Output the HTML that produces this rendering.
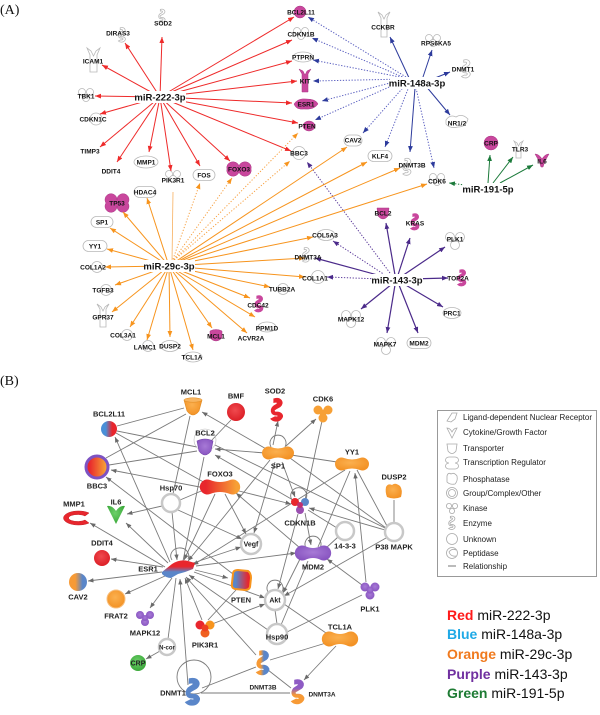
<!DOCTYPE html>
<html><head><meta charset="utf-8">
<style>
html,body{margin:0;padding:0;background:#fff;}
svg{display:block;}
.t{font-family:"Liberation Sans",Arial,sans-serif;font-weight:bold;font-size:6.5px;fill:#111;text-anchor:middle;}
.h{font-family:"Liberation Sans",Arial,sans-serif;font-weight:bold;font-size:9.5px;fill:#111;text-anchor:middle;}
.b{font-family:"Liberation Sans",Arial,sans-serif;font-weight:bold;font-size:7.5px;fill:#222;text-anchor:middle;}
.lg{font-family:"Liberation Sans",Arial,sans-serif;font-size:8px;fill:#222;}
.ck{font-family:"Liberation Sans",Arial,sans-serif;font-size:14px;fill:#111;}
.o{fill:#fff;stroke:#b8b8b8;stroke-width:.8;}
.m{fill:#c9479d;stroke:#a83583;stroke-width:.5;}
.gc{fill:#fff;stroke:#c8c8c8;stroke-width:2.5;}
.li{fill:#fff;stroke:#aaa;stroke-width:.8;}
</style></head>
<body>
<svg width="600" height="715" viewBox="0 0 600 715" xmlns="http://www.w3.org/2000/svg">
<defs>
<marker id="mR" viewBox="0 0 10 10" refX="10" refY="5" markerWidth="6" markerHeight="6" orient="auto" markerUnits="userSpaceOnUse"><path d="M0,1 L10,5 L0,9 z" fill="#ee2a2a"/></marker>
<marker id="mB" viewBox="0 0 10 10" refX="10" refY="5" markerWidth="6" markerHeight="6" orient="auto" markerUnits="userSpaceOnUse"><path d="M0,1 L10,5 L0,9 z" fill="#2d3b9c"/></marker>
<marker id="mO" viewBox="0 0 10 10" refX="10" refY="5" markerWidth="6" markerHeight="6" orient="auto" markerUnits="userSpaceOnUse"><path d="M0,1 L10,5 L0,9 z" fill="#f7941d"/></marker>
<marker id="mP" viewBox="0 0 10 10" refX="10" refY="5" markerWidth="6" markerHeight="6" orient="auto" markerUnits="userSpaceOnUse"><path d="M0,1 L10,5 L0,9 z" fill="#4b2a8a"/></marker>
<marker id="mG" viewBox="0 0 10 10" refX="10" refY="5" markerWidth="6" markerHeight="6" orient="auto" markerUnits="userSpaceOnUse"><path d="M0,1 L10,5 L0,9 z" fill="#1b7a3a"/></marker>
<marker id="mK" viewBox="0 0 10 10" refX="10" refY="5" markerWidth="5.5" markerHeight="5.5" orient="auto" markerUnits="userSpaceOnUse"><path d="M0,1 L10,5 L0,9 z" fill="#6a6a6a"/></marker>
<linearGradient id="gBR" x1="0" y1="0" x2="1" y2="0"><stop offset="0.3" stop-color="#4a8fd8"/><stop offset="0.7" stop-color="#e8262d"/></linearGradient>
<linearGradient id="gRO" x1="0" y1="0" x2="1" y2="0"><stop offset="0.15" stop-color="#e8262d"/><stop offset="0.9" stop-color="#f7a035"/></linearGradient>
<linearGradient id="gOB" x1="0" y1="0" x2="1" y2="0"><stop offset="0.35" stop-color="#f79a35"/><stop offset="0.75" stop-color="#5a86c9"/></linearGradient>
<linearGradient id="gPT" x1="0" y1="0" x2="1" y2="0"><stop offset="0.2" stop-color="#5a86c9"/><stop offset="0.85" stop-color="#e8262d"/></linearGradient>
<linearGradient id="gES" x1="0" y1="0" x2="0" y2="1"><stop offset="0.35" stop-color="#e8262d"/><stop offset="0.65" stop-color="#5a86c9"/></linearGradient>
<linearGradient id="gBO" x1="0" y1="0" x2="1" y2="0"><stop offset="0.3" stop-color="#f79a35"/><stop offset="0.6" stop-color="#5a86c9"/></linearGradient>
<linearGradient id="gPO" x1="0" y1="0" x2="0" y2="1"><stop offset="0.35" stop-color="#8e5bc4"/><stop offset="0.65" stop-color="#f79a35"/></linearGradient>
<radialGradient id="gRed" cx="0.45" cy="0.4" r="0.6"><stop offset="0" stop-color="#f04a4f"/><stop offset="1" stop-color="#dc1f27"/></radialGradient>
<radialGradient id="gOr" cx="0.45" cy="0.4" r="0.6"><stop offset="0" stop-color="#fbb04f"/><stop offset="1" stop-color="#f39225"/></radialGradient>
<radialGradient id="gGr" cx="0.45" cy="0.4" r="0.6"><stop offset="0" stop-color="#6dd06a"/><stop offset="1" stop-color="#3ba83a"/></radialGradient>
<radialGradient id="gPu" cx="0.5" cy="0.45" r="0.6"><stop offset="0" stop-color="#a77ad6"/><stop offset="1" stop-color="#8652bf"/></radialGradient>
</defs>

<!-- ===================== PANEL A ===================== -->
<text x="0" y="14" style="font-family:'Liberation Serif',serif;font-size:14px;fill:#111">(A)</text>

<g class="o">
  <path transform="translate(162,16) scale(.55)" vector-effect="non-scaling-stroke" d="M-3,-12 C4,-14 8,-8 3,-4 C-2,-1 -6,0 -2,3 C4,2 8,6 4,10 C1,13 -4,12 -6,10 L-2,8 C2,9 3,6 0,5 C-7,6 -8,-2 -2,-5 C2,-7 2,-10 -3,-9 Z"/>
  <path transform="translate(122,35) scale(.6)" vector-effect="non-scaling-stroke" d="M-3,-12 C4,-14 8,-8 3,-4 C-2,-1 -6,0 -2,3 C4,2 8,6 4,10 C1,13 -4,12 -6,10 L-2,8 C2,9 3,6 0,5 C-7,6 -8,-2 -2,-5 C2,-7 2,-10 -3,-9 Z"/>
  <path d="M87,48 L90,55 L90,72 L97,72 L97,55 L100,48 L96,51 L93.5,56 L91,51 Z"/>
  <g transform="translate(86,94)"><circle cx="-4" cy="-2" r="3.5"/><circle cx="4" cy="-2" r="3.5"/><circle cx="0" cy="4" r="3.5"/></g>
  <circle cx="96" cy="119" r="6"/>
  <ellipse cx="146" cy="162" rx="12" ry="6"/>
  <g transform="translate(173,176)"><circle cx="-4" cy="-2" r="3.5"/><circle cx="4" cy="-2" r="3.5"/><circle cx="0" cy="3" r="3.5"/></g>
  <rect x="193" y="169.5" width="22" height="11" rx="5.5"/>
  <g transform="translate(301,33)"><circle cx="-4" cy="-2" r="3.5"/><circle cx="4" cy="-2" r="3.5"/><circle cx="0" cy="3" r="3.5"/></g>
  <ellipse cx="303" cy="57" rx="10" ry="5"/>
  <circle cx="299" cy="153" r="6.5"/>
  <path d="M378,12 L381,18 L381,37 L387,37 L387,18 L390,12 L386,15 L384,19 L382,15 Z"/>
  <g transform="translate(433,40)"><circle cx="-4" cy="-2" r="3.5"/><circle cx="4" cy="-2" r="3.5"/><circle cx="0" cy="3" r="3.5"/></g>
  <path transform="translate(466,69) scale(.75)" vector-effect="non-scaling-stroke" d="M-3,-12 C4,-14 8,-8 3,-4 C-2,-1 -6,0 -2,3 C4,2 8,6 4,10 C1,13 -4,12 -6,10 L-2,8 C2,9 3,6 0,5 C-7,6 -8,-2 -2,-5 C2,-7 2,-10 -3,-9 Z"/>
  <path d="M446,120 Q450,114 456,117 Q462,113 468,119 Q466,127 458,127 Q450,129 446,124 Z"/>
  <g transform="translate(437,179)"><circle cx="-4" cy="-2" r="3.5"/><circle cx="4" cy="-2" r="3.5"/><circle cx="0" cy="3" r="3.5"/></g>
  <path transform="translate(407,167) scale(.7)" vector-effect="non-scaling-stroke" d="M-3,-12 C4,-14 8,-8 3,-4 C-2,-1 -6,0 -2,3 C4,2 8,6 4,10 C1,13 -4,12 -6,10 L-2,8 C2,9 3,6 0,5 C-7,6 -8,-2 -2,-5 C2,-7 2,-10 -3,-9 Z"/>
  <rect x="368" y="150.5" width="24" height="11" rx="5.5"/>
  <rect x="344" y="135" width="18" height="11" rx="5.5"/>
  <path d="M514,141 L516,145 L516,158 L521,158 L521,145 L523,141 L520,143 L518.5,146 L517,143 Z"/>
  <g transform="translate(455,240)"><circle cx="-5" cy="-3" r="4.5"/><circle cx="5" cy="-3" r="4.5"/><circle cx="0" cy="5" r="4.5"/></g>
  <ellipse cx="452" cy="313" rx="9" ry="5.5"/>
  <rect x="407" y="337.5" width="24" height="11" rx="5.5"/>
  <g transform="translate(386,345)"><circle cx="-5" cy="-3" r="4.5"/><circle cx="5" cy="-3" r="4.5"/><circle cx="0" cy="5" r="4.5"/></g>
  <g transform="translate(351,318)"><circle cx="-5" cy="-3" r="4.5"/><circle cx="5" cy="-3" r="4.5"/><circle cx="0" cy="5" r="4.5"/></g>
  <circle cx="318" cy="277" r="6.5"/>
  <path transform="translate(306,255) scale(.6)" vector-effect="non-scaling-stroke" d="M-3,-12 C4,-14 8,-8 3,-4 C-2,-1 -6,0 -2,3 C4,2 8,6 4,10 C1,13 -4,12 -6,10 L-2,8 C2,9 3,6 0,5 C-7,6 -8,-2 -2,-5 C2,-7 2,-10 -3,-9 Z"/>
  <ellipse cx="326" cy="235" rx="9" ry="5.5"/>
  <rect x="134" y="186.5" width="22" height="11" rx="5.5"/>
  <rect x="91" y="216.5" width="22" height="11" rx="5.5"/>
  <rect x="83" y="240.5" width="24" height="11" rx="5.5"/>
  <circle cx="97" cy="267" r="5.5"/>
  <circle cx="106" cy="290" r="5.5"/>
  <path d="M97,304 L100,309 L100,327 L106,327 L106,309 L109,304 L105,307 L103,311 L101,307 Z"/>
  <circle cx="127" cy="335" r="5.5"/>
  <circle cx="148" cy="346" r="5.5"/>
  <ellipse cx="170" cy="346" rx="9" ry="5.5"/>
  <ellipse cx="193" cy="357" rx="9" ry="5"/>
  <ellipse cx="267" cy="327" rx="9" ry="5"/>
  <circle cx="283" cy="289" r="5.5"/>
</g>
<g class="m">
  <path d="M227,169 A6,5.5 0 1 1 239,166 A6,5.5 0 1 1 251,169 A6,5.5 0 1 1 239,172 A6,5.5 0 1 1 227,169 Z"/>
  <circle cx="300" cy="12" r="6"/>
  <path d="M299,69 L302,74 L302,92 L308,92 L308,74 L311,69 L307,71 L305,75 L303,71 Z"/>
  <path d="M294,104 Q298,98 306,99 Q316,99 318,104 Q314,110 304,109 Q296,110 294,104 Z"/>
  <ellipse cx="309" cy="126" rx="6" ry="5"/>
  <circle cx="491" cy="143" r="7"/>
  <path d="M535,154 Q539,154 542,159 Q545,154 549,154 L545,161 L543,167 L541,167 L539,161 Z"/>
  <path d="M377,208 L389,208 L388,216 Q383,222 378,216 Z"/>
  <path transform="translate(415,222) scale(.65)" stroke="#c9479d" stroke-width="2" d="M-3,-12 C4,-14 8,-8 3,-4 C-2,-1 -6,0 -2,3 C4,2 8,6 4,10 C1,13 -4,12 -6,10 L-2,8 C2,9 3,6 0,5 C-7,6 -8,-2 -2,-5 C2,-7 2,-10 -3,-9 Z"/>
  <path transform="translate(462,278) scale(.65)" stroke="#c9479d" stroke-width="2" d="M-3,-12 C4,-14 8,-8 3,-4 C-2,-1 -6,0 -2,3 C4,2 8,6 4,10 C1,13 -4,12 -6,10 L-2,8 C2,9 3,6 0,5 C-7,6 -8,-2 -2,-5 C2,-7 2,-10 -3,-9 Z"/>
  <path d="M106,203 A6,6 0 1 1 117,200 A6,6 0 1 1 128,203 A6,6 0 1 1 117,206 A6,6 0 1 1 106,203 Z"/>
  <path d="M210,331 Q216,328 222,331 L222,338 Q216,344 210,338 Z"/>
  <path transform="translate(259,304) scale(.65)" stroke="#c9479d" stroke-width="2" d="M-3,-12 C4,-14 8,-8 3,-4 C-2,-1 -6,0 -2,3 C4,2 8,6 4,10 C1,13 -4,12 -6,10 L-2,8 C2,9 3,6 0,5 C-7,6 -8,-2 -2,-5 C2,-7 2,-10 -3,-9 Z"/>
</g>

<g stroke="#ee2a2a" stroke-width="1" fill="none" marker-end="url(#mR)">
  <line x1="160" y1="97" x2="162" y2="37"/>
  <line x1="160" y1="97" x2="125" y2="43"/>
  <line x1="160" y1="97" x2="102" y2="65"/>
  <line x1="160" y1="97" x2="95" y2="96"/>
  <line x1="160" y1="97" x2="100" y2="114"/>
  <line x1="160" y1="97" x2="100" y2="147"/>
  <line x1="160" y1="97" x2="117" y2="162"/>
  <line x1="160" y1="97" x2="149" y2="152"/>
  <line x1="160" y1="97" x2="171" y2="171"/>
  <line x1="160" y1="97" x2="200" y2="166"/>
  <line x1="160" y1="97" x2="230" y2="161"/>
  <line x1="160" y1="97" x2="294" y2="17"/>
  <line x1="160" y1="97" x2="292" y2="40"/>
  <line x1="160" y1="97" x2="292" y2="61"/>
  <line x1="160" y1="97" x2="297" y2="81"/>
  <line x1="160" y1="97" x2="292" y2="103"/>
  <line x1="160" y1="97" x2="298" y2="123"/>
  <line x1="160" y1="97" x2="291" y2="151"/>
</g>
<g stroke="#2d3b9c" stroke-width="1" fill="none" marker-end="url(#mB)">
  <line x1="410" y1="80" x2="390" y2="37"/>
  <line x1="422" y1="80" x2="432" y2="50"/>
  <line x1="430" y1="80" x2="450" y2="72"/>
  <line x1="425" y1="85" x2="450" y2="115"/>
  <line x1="415" y1="88" x2="410" y2="152"/>
</g>
<g stroke="#5a5fc0" stroke-width="1" fill="none" stroke-dasharray="1.3 1.6" marker-end="url(#mB)">
  <line x1="416" y1="88" x2="434" y2="168"/>
  <line x1="410" y1="84" x2="385" y2="147"/>
  <line x1="408" y1="82" x2="363" y2="133"/>
  <line x1="405" y1="80" x2="315" y2="120"/>
  <line x1="405" y1="79" x2="322" y2="101"/>
  <line x1="405" y1="79" x2="313" y2="81"/>
  <line x1="405" y1="78" x2="313" y2="60"/>
  <line x1="405" y1="78" x2="312" y2="38"/>
  <line x1="406" y1="77" x2="308" y2="17"/>
</g>
<g stroke="#1b7a3a" stroke-width="1" fill="none" marker-end="url(#mG)">
  <line x1="488" y1="183" x2="490" y2="155"/>
  <line x1="493" y1="183" x2="513" y2="157"/>
  <line x1="500" y1="183" x2="533" y2="165"/>
  <line x1="465" y1="185" x2="449" y2="183" stroke-dasharray="1.3 1.6"/>
</g>
<g stroke="#4b2a8a" stroke-width="1.2" fill="none" marker-end="url(#mP)">
  <line x1="395" y1="275" x2="386" y2="223"/>
  <line x1="398" y1="275" x2="410" y2="238"/>
  <line x1="402" y1="276" x2="445" y2="247"/>
  <line x1="410" y1="279" x2="448" y2="278"/>
  <line x1="404" y1="284" x2="443" y2="307"/>
  <line x1="399" y1="285" x2="418" y2="333"/>
  <line x1="395" y1="285" x2="387" y2="333"/>
  <line x1="392" y1="284" x2="361" y2="309"/>
  <line x1="385" y1="277" x2="315" y2="258"/>
</g>
<g stroke="#5b3a9a" stroke-width="1" fill="none" stroke-dasharray="1.3 1.6" marker-end="url(#mP)">
  <line x1="380" y1="279" x2="327" y2="277"/>
  <line x1="385" y1="275" x2="333" y2="241"/>
  <line x1="390" y1="273" x2="307" y2="162"/>
</g>
<g stroke="#f7941d" stroke-width="1" fill="none" marker-end="url(#mO)">
  <line x1="169" y1="266" x2="147" y2="198"/>
  <line x1="169" y1="266" x2="123" y2="212"/>
  <line x1="169" y1="266" x2="110" y2="228"/>
  <line x1="169" y1="266" x2="107" y2="249"/>
  <line x1="169" y1="266" x2="105" y2="267"/>
  <line x1="169" y1="266" x2="115" y2="285"/>
  <line x1="169" y1="266" x2="112" y2="312"/>
  <line x1="169" y1="266" x2="130" y2="327"/>
  <line x1="169" y1="266" x2="147" y2="340"/>
  <line x1="169" y1="266" x2="170" y2="337"/>
  <line x1="169" y1="266" x2="193" y2="350"/>
  <line x1="169" y1="266" x2="212" y2="328"/>
  <line x1="169" y1="266" x2="247" y2="333"/>
  <line x1="169" y1="266" x2="255" y2="317"/>
  <line x1="169" y1="266" x2="250" y2="298"/>
  <line x1="169" y1="266" x2="270" y2="287"/>
  <line x1="169" y1="266" x2="347" y2="147"/>
  <line x1="169" y1="266" x2="367" y2="162"/>
  <line x1="169" y1="266" x2="400" y2="168"/>
  <line x1="169" y1="266" x2="427" y2="184"/>
  <line x1="169" y1="266" x2="313" y2="237"/>
  <line x1="169" y1="266" x2="305" y2="258"/>
  <line x1="169" y1="266" x2="305" y2="277"/>
</g>
<line x1="172" y1="262" x2="173" y2="192" stroke="#f7b060" stroke-width=".8"/>
<g stroke="#f7a040" stroke-width="1" fill="none" stroke-dasharray="1.2 1.8" marker-end="url(#mO)">
  <line x1="172" y1="262" x2="200" y2="183"/>
  <line x1="172" y1="262" x2="232" y2="178"/>
  <line x1="172" y1="262" x2="298" y2="133"/>
  <line x1="172" y1="262" x2="290" y2="161"/>
</g>

<g fill="#fff">
  <rect x="135" y="91" width="51" height="12"/>
  <rect x="390" y="77" width="55" height="12"/>
  <rect x="144" y="260" width="51" height="12"/>
  <rect x="372" y="274" width="51" height="12"/>
  <rect x="463" y="183" width="51" height="12"/>
</g>
<text class="h" x="160" y="100.4">miR-222-3p</text>
<text class="h" x="417" y="86.4">miR-148a-3p</text>
<text class="h" x="169" y="269.4">miR-29c-3p</text>
<text class="h" x="397" y="283.4">miR-143-3p</text>
<text class="h" x="488" y="192.4">miR-191-5p</text>

<g class="t">
  <text x="163" y="25.3">SOD2</text>
  <text x="118" y="35.3">DIRAS3</text>
  <text x="93" y="63.3">ICAM1</text>
  <text x="86" y="98.3">TBK1</text>
  <text x="93" y="121.3">CDKN1C</text>
  <text x="90" y="153.3">TIMP3</text>
  <text x="111" y="173.3">DDIT4</text>
  <text x="146" y="164.3">MMP1</text>
  <text x="173" y="182.3">PIK3R1</text>
  <text x="204" y="177.3">FOS</text>
  <text x="239" y="171.3">FOXO3</text>
  <text x="301" y="14.3">BCL2L11</text>
  <text x="301" y="36.3">CDKN1B</text>
  <text x="303" y="59.3">PTPRN</text>
  <text x="305" y="83.3">KIT</text>
  <text x="306" y="106.3">ESR1</text>
  <text x="307" y="128.3">PTEN</text>
  <text x="299" y="155.3">BBC3</text>
  <text x="383" y="29.3">CCKBR</text>
  <text x="436" y="45.3">RPS6KA5</text>
  <text x="463" y="71.3">DNMT1</text>
  <text x="457" y="125.3">NR1/2</text>
  <text x="437" y="183.3">CDK6</text>
  <text x="412" y="167.3">DNMT3B</text>
  <text x="380" y="158.3">KLF4</text>
  <text x="353" y="142.3">CAV2</text>
  <text x="491" y="145.3">CRP</text>
  <text x="520" y="151.3">TLR3</text>
  <text x="542" y="163.3">IL6</text>
  <text x="383" y="215.3">BCL2</text>
  <text x="415" y="225.3">KRAS</text>
  <text x="455" y="241.3">PLK1</text>
  <text x="458" y="280.3">TOP2A</text>
  <text x="452" y="315.3">PRC1</text>
  <text x="419" y="345.3">MDM2</text>
  <text x="385" y="346.3">MAPK7</text>
  <text x="351" y="321.3">MAPK12</text>
  <text x="315" y="280.3">COL1A1</text>
  <text x="308" y="259.3">DNMT3A</text>
  <text x="325" y="237.3">COL5A3</text>
  <text x="145" y="194.3">HDAC4</text>
  <text x="117" y="205.3">TP53</text>
  <text x="102" y="224.3">SP1</text>
  <text x="95" y="248.3">YY1</text>
  <text x="93" y="269.3">COL1A2</text>
  <text x="103" y="292.3">TGFB3</text>
  <text x="103" y="319.3">GPR37</text>
  <text x="123" y="337.3">COL3A1</text>
  <text x="145" y="349.3">LAMC1</text>
  <text x="170" y="348.3">DUSP2</text>
  <text x="192" y="359.3">TCL1A</text>
  <text x="216" y="338.3">MCL1</text>
  <text x="251" y="340.3">ACVR2A</text>
  <text x="267" y="330.3">PPM1D</text>
  <text x="258" y="307.3">CDC42</text>
  <text x="282" y="291.3">TUBB2A</text>
</g>

<!-- ===================== PANEL B ===================== -->
<text x="0" y="385" style="font-family:'Liberation Serif',serif;font-size:14px;fill:#111">(B)</text>

<g stroke="#7a7a7a" stroke-width=".9" fill="none">
  <line x1="117" y1="426" x2="184" y2="408"/>
  <line x1="106" y1="458" x2="186" y2="414"/>
  <line x1="190" y1="416" x2="173" y2="494"/>
  <line x1="231" y1="420" x2="211" y2="441"/>
  <line x1="117" y1="431" x2="197" y2="447"/>
  <line x1="116" y1="433" x2="207" y2="484"/>
  <line x1="109" y1="465" x2="197" y2="451"/>
  <line x1="204" y1="457" x2="183" y2="561"/>
  <line x1="180" y1="500" x2="206" y2="489"/>
  <line x1="291" y1="455" x2="337" y2="462"/>
  <line x1="322" y1="421" x2="305" y2="500"/>
  <line x1="350" y1="471" x2="318" y2="547"/>
  <line x1="357" y1="470" x2="387" y2="526"/>
  <line x1="394" y1="500" x2="394" y2="523"/>
  <line x1="386" y1="528" x2="290" y2="458"/>
  <line x1="337" y1="528" x2="308" y2="510"/>
  <line x1="338" y1="537" x2="326" y2="548"/>
  <line x1="308" y1="561" x2="281" y2="625"/>
  <line x1="362" y1="595" x2="287" y2="632"/>
  <line x1="275" y1="610" x2="277" y2="624"/>
  <line x1="284" y1="604" x2="326" y2="633"/>
  <line x1="208" y1="620" x2="236" y2="590"/>
  <line x1="326" y1="643" x2="270" y2="660"/>
  <line x1="268" y1="670" x2="291" y2="688"/>
  <line x1="201" y1="693" x2="290" y2="693"/>
  <line x1="202" y1="688" x2="256" y2="667"/>
  <line x1="168" y1="639" x2="176" y2="578"/>
  <line x1="215" y1="445" x2="385" y2="528"/>
  <path d="M271,447 A8,8 0 1 1 285,447"/>
  <path d="M306,548 A8,8 0 1 1 320,548"/>
  <path d="M268,592 A8,8 0 1 1 282,592"/>
  <path d="M292,500 A8,8 0 1 1 306,499"/>
  <path d="M172,560 A9,8 0 1 1 188,559"/>
  <circle cx="194" cy="677" r="17"/>
  <circle cx="205" cy="440" r="11" stroke="#bbb" stroke-width=".6"/>
</g>
<g stroke="#7a7a7a" stroke-width=".9" fill="none" marker-end="url(#mK)">
  <line x1="268" y1="450" x2="202" y2="412"/>
  <line x1="205" y1="488" x2="111" y2="470"/>
  <line x1="170" y1="562" x2="115" y2="437"/>
  <line x1="233" y1="574" x2="106" y2="477"/>
  <line x1="265" y1="453" x2="215" y2="449"/>
  <line x1="293" y1="500" x2="215" y2="455"/>
  <line x1="162" y1="506" x2="127" y2="514"/>
  <line x1="165" y1="567" x2="90" y2="523"/>
  <line x1="168" y1="563" x2="126" y2="523"/>
  <line x1="273" y1="445" x2="278" y2="421"/>
  <line x1="286" y1="446" x2="316" y2="419"/>
  <line x1="282" y1="462" x2="295" y2="497"/>
  <line x1="270" y1="460" x2="188" y2="561"/>
  <line x1="275" y1="462" x2="254" y2="533"/>
  <line x1="235" y1="490" x2="291" y2="504"/>
  <line x1="225" y1="494" x2="246" y2="534"/>
  <line x1="215" y1="494" x2="184" y2="560"/>
  <line x1="300" y1="548" x2="236" y2="493"/>
  <line x1="345" y1="470" x2="193" y2="565"/>
  <line x1="366" y1="582" x2="355" y2="473"/>
  <line x1="385" y1="530" x2="309" y2="508"/>
  <line x1="386" y1="538" x2="284" y2="596"/>
  <line x1="298" y1="514" x2="278" y2="589"/>
  <line x1="305" y1="513" x2="311" y2="545"/>
  <line x1="300" y1="559" x2="283" y2="593"/>
  <line x1="362" y1="585" x2="327" y2="559"/>
  <line x1="212" y1="624" x2="265" y2="604"/>
  <line x1="202" y1="620" x2="185" y2="578"/>
  <line x1="336" y1="646" x2="304" y2="680"/>
  <line x1="188" y1="685" x2="180" y2="579"/>
  <line x1="160" y1="651" x2="146" y2="659"/>
  <line x1="172" y1="512" x2="177" y2="560"/>
  <line x1="268" y1="630" x2="189" y2="575"/>
  <line x1="256" y1="655" x2="186" y2="577"/>
  <line x1="195" y1="570" x2="228" y2="578"/>
  <line x1="193" y1="563" x2="241" y2="547"/>
  <line x1="196" y1="566" x2="296" y2="553"/>
  <line x1="194" y1="572" x2="265" y2="598"/>
  <line x1="162" y1="572" x2="88" y2="581"/>
  <line x1="163" y1="567" x2="111" y2="559"/>
  <line x1="165" y1="576" x2="125" y2="594"/>
  <line x1="172" y1="578" x2="150" y2="608"/>
  <line x1="178" y1="510" x2="242" y2="539"/>
</g>

<!-- MCL1 -->
<path d="M184,400 Q193,396 202,400 L199,411 Q193,419 187,411 Z" fill="url(#gOr)" stroke="#e08a20" stroke-width=".6"/>
<ellipse cx="193" cy="400" rx="9" ry="2.2" fill="#f8b560" stroke="#e08a20" stroke-width=".5"/>
<circle cx="236" cy="412" r="9" fill="url(#gRed)"/>
<path transform="translate(277,410) scale(.9)" stroke="#e8262d" stroke-width="2" d="M-3,-12 C4,-14 8,-8 3,-4 C-2,-1 -6,0 -2,3 C4,2 8,6 4,10 C1,13 -4,12 -6,10 L-2,8 C2,9 3,6 0,5 C-7,6 -8,-2 -2,-5 C2,-7 2,-10 -3,-9 Z" fill="#e8262d"/>
<g transform="translate(323,413)" fill="#f7a035"><circle cx="-5" cy="-3" r="4.5"/><circle cx="5" cy="-3" r="4.5"/><circle cx="0" cy="5" r="4.5"/><circle r="3.5"/></g>
<circle cx="109" cy="429" r="8" fill="url(#gBR)"/>
<path d="M197,441 Q205,437 213,441 L211,451 Q205,459 199,451 Z" fill="url(#gPu)" stroke="#7444a8" stroke-width=".6"/>
<circle cx="97" cy="467" r="11" fill="url(#gRO)" stroke="#7d52c2" stroke-width="3"/>
<path d="M210,480 A7.5,7.5 0 1 0 210,494 Q220,490 230,494 A7.5,7.5 0 1 0 230,480 Q220,484 210,480 Z" fill="url(#gRO)"/>
<circle cx="171" cy="503" r="9" class="gc"/>
<path d="M107,506 Q112,505 116,511 Q120,505 125,506 L119,518 L116,524 L113,518 Z" fill="url(#gGr)"/>
<!-- MMP1 crescent -->
<path d="M89,513 A15,7 0 1 0 89,523 L85,520 A9,3.5 0 1 1 85,516 Z" fill="#e8262d" stroke="#c01a20" stroke-width=".5"/>
<path d="M271,447 A6.5,6.5 0 1 0 271,459 Q278,456 285,459 A6.5,6.5 0 1 0 285,447 Q278,450 271,447 Z" fill="url(#gOr)"/>
<path d="M344,458 A6.5,6.5 0 1 0 344,470 Q352,467 360,470 A6.5,6.5 0 1 0 360,458 Q352,461 344,458 Z" fill="url(#gOr)"/>
<path d="M386,487 Q388,483 392,485 Q395,482 400,486 Q403,490 401,497 Q394,500 387,497 Q385,492 386,487 Z" fill="url(#gOr)"/>
<g transform="translate(300,505)"><circle cx="-5" cy="-3" r="4" fill="#e8262d"/><circle cx="5" cy="-3" r="4" fill="#5a86c9"/><circle cx="0" cy="5" r="4" fill="#9a4fb0"/><circle r="3" fill="#c03070"/></g>
<circle cx="345" cy="531" r="9" class="gc"/>
<circle cx="394" cy="532" r="9" class="gc"/>
<path d="M305,546 A7.5,7.5 0 1 0 305,560 Q313,556 321,560 A7.5,7.5 0 1 0 321,546 Q313,550 305,546 Z" fill="url(#gPu)"/>
<circle cx="251" cy="544" r="10" class="gc"/>
<circle cx="275" cy="600" r="10" class="gc"/>
<circle cx="277" cy="634" r="10" class="gc"/>
<circle cx="167" cy="647" r="8" class="gc"/>
<path d="M233,574 Q233,570 238,570 L248,571 Q251,573 251,578 L250,587 Q249,590 245,590 L235,589 Q231,588 232,583 Z" fill="url(#gPT)" stroke="#f7941d" stroke-width="2"/>
<g transform="translate(370,590)" fill="url(#gPu)"><circle cx="-5" cy="-3" r="4.5"/><circle cx="5" cy="-3" r="4.5"/><circle cx="0" cy="5" r="4.5"/><circle r="3.5"/></g>
<path d="M332,632 A7.5,7.5 0 1 0 332,646 Q340,642 348,646 A7.5,7.5 0 1 0 348,632 Q340,636 332,632 Z" fill="url(#gOr)"/>
<path transform="translate(263,663) scale(.95)" stroke="url(#gBO)" stroke-width="2" d="M-3,-12 C4,-14 8,-8 3,-4 C-2,-1 -6,0 -2,3 C4,2 8,6 4,10 C1,13 -4,12 -6,10 L-2,8 C2,9 3,6 0,5 C-7,6 -8,-2 -2,-5 C2,-7 2,-10 -3,-9 Z" fill="url(#gBO)"/>
<path transform="translate(298,692) scale(.95)" stroke="url(#gPO)" stroke-width="2" d="M-3,-12 C4,-14 8,-8 3,-4 C-2,-1 -6,0 -2,3 C4,2 8,6 4,10 C1,13 -4,12 -6,10 L-2,8 C2,9 3,6 0,5 C-7,6 -8,-2 -2,-5 C2,-7 2,-10 -3,-9 Z" fill="url(#gPO)"/>
<path transform="translate(193,692) scale(1.05)" stroke="#5a86c9" stroke-width="2.2" d="M-3,-12 C4,-14 8,-8 3,-4 C-2,-1 -6,0 -2,3 C4,2 8,6 4,10 C1,13 -4,12 -6,10 L-2,8 C2,9 3,6 0,5 C-7,6 -8,-2 -2,-5 C2,-7 2,-10 -3,-9 Z" fill="#5a86c9"/>
<path d="M162,572 L172,564 Q180,559 188,561 L195,563 L193,569 Q186,572 178,574 L171,578 Q166,578 162,574 Z" fill="url(#gES)"/>
<circle cx="102" cy="558" r="8" fill="url(#gRed)"/>
<circle cx="78" cy="582" r="9" fill="url(#gOB)"/>
<circle cx="116" cy="599" r="9" fill="url(#gOr)" stroke="#f8c080" stroke-width="1"/>
<g transform="translate(145,618)" fill="url(#gPu)"><circle cx="-5" cy="-3" r="4"/><circle cx="5" cy="-3" r="4"/><circle cx="0" cy="4" r="4"/><circle r="3"/></g>
<g transform="translate(205,628)"><circle cx="-5" cy="-3" r="4.5" fill="#e8262d"/><circle cx="5" cy="-3" r="4.5" fill="#f7941d"/><circle cx="0" cy="5" r="4.5" fill="#f06020"/><circle r="3.5" fill="#ee4020"/></g>
<circle cx="138" cy="663" r="8" fill="url(#gGr)"/>

<g class="b">
  <text x="191" y="394.7">MCL1</text>
  <text x="236" y="398.7">BMF</text>
  <text x="275" y="393.7">SOD2</text>
  <text x="323" y="401.7">CDK6</text>
  <text x="109" y="416.7">BCL2L11</text>
  <text x="205" y="435.7">BCL2</text>
  <text x="97" y="488.7">BBC3</text>
  <text x="220" y="476.7">FOXO3</text>
  <text x="171" y="490.7">Hsp70</text>
  <text x="116" y="504.7">IL6</text>
  <text x="74" y="506.7">MMP1</text>
  <text x="278" y="468.7">SP1</text>
  <text x="352" y="454.7">YY1</text>
  <text x="394" y="479.7">DUSP2</text>
  <text x="300" y="525.7">CDKN1B</text>
  <text x="345" y="548.7">14-3-3</text>
  <text x="394" y="549.7">P38 MAPK</text>
  <text x="313" y="569.7">MDM2</text>
  <text x="251" y="546.7" style="font-size:7px">Vegf</text>
  <text x="241" y="602.7">PTEN</text>
  <text x="275" y="602.7" style="font-size:7px">Akt</text>
  <text x="370" y="611.7">PLK1</text>
  <text x="277" y="639.7">Hsp90</text>
  <text x="340" y="629.7">TCL1A</text>
  <text x="263" y="689.7" style="font-size:6.5px">DNMT3B</text>
  <text x="322" y="696.7" style="font-size:6.5px">DNMT3A</text>
  <text x="148" y="571.7">ESR1</text>
  <text x="102" y="545.7">DDIT4</text>
  <text x="78" y="599.7">CAV2</text>
  <text x="116" y="618.7">FRAT2</text>
  <text x="145" y="635.7">MAPK12</text>
  <text x="205" y="647.7">PIK3R1</text>
  <text x="167" y="649.5" style="font-size:6px">N-cor</text>
  <text x="138" y="665.7" style="font-size:7px">CRP</text>
  <text x="173" y="695.7">DNMT1</text>
</g>

<rect x="437.5" y="410.5" width="159" height="166" fill="#fff" stroke="#999" stroke-width="1"/>
<g class="li">
  <path d="M447,421 L452,413 L457,413 L455,419 L451,422 Z"/>
  <path d="M447,428 Q450,428 452,432 Q454,428 457,428 L454,434 L452,438 L450,434 Z"/>
  <path d="M447,444 L457,444 L456,451 Q452,456 448,451 Z"/>
  <path d="M449,457 A3.5,3 0 1 0 449,463 A3.5,3 0 1 0 449,469 L455,469 A3.5,3 0 1 0 455,463 A3.5,3 0 1 0 455,457 Z"/>
  <path d="M447,476 Q448,472 451,474 Q454,472 457,476 Q458,481 455,484 Q450,485 447,482 Z"/>
  <circle cx="452" cy="493" r="5.5"/><circle cx="452" cy="493" r="3.5"/>
  <g transform="translate(452,508)"><circle cx="-3" cy="-2" r="2.6"/><circle cx="3" cy="-2" r="2.6"/><circle cx="0" cy="3" r="2.6"/></g>
  <path transform="translate(452,523) scale(.55)" vector-effect="non-scaling-stroke" d="M-3,-12 C4,-14 8,-8 3,-4 C-2,-1 -6,0 -2,3 C4,2 8,6 4,10 C1,13 -4,12 -6,10 L-2,8 C2,9 3,6 0,5 C-7,6 -8,-2 -2,-5 C2,-7 2,-10 -3,-9 Z"/>
  <circle cx="452" cy="539" r="5.5"/>
  <circle cx="452" cy="553" r="5.5"/><path d="M456,550 Q452,548 449,552 Q451,557 456,556" fill="none"/>
  <line x1="448" y1="566" x2="456" y2="566" stroke="#555"/>
</g>
<g class="lg">
  <text x="463" y="420">Ligand-dependent Nuclear Receptor</text>
  <text x="463" y="435">Cytokine/Growth Factor</text>
  <text x="463" y="451">Transporter</text>
  <text x="463" y="465">Transcription Regulator</text>
  <text x="463" y="482">Phosphatase</text>
  <text x="463" y="496">Group/Complex/Other</text>
  <text x="463" y="511">Kinase</text>
  <text x="463" y="526">Enzyme</text>
  <text x="463" y="542">Unknown</text>
  <text x="463" y="556">Peptidase</text>
  <text x="463" y="569">Relationship</text>
</g>

<g class="ck">
  <text x="447" y="620"><tspan font-weight="bold" fill="#ff1a1a">Red</tspan> miR-222-3p</text>
  <text x="447" y="639"><tspan font-weight="bold" fill="#1fa9e6">Blue</tspan> miR-148a-3p</text>
  <text x="447" y="659"><tspan font-weight="bold" fill="#f07a1e">Orange</tspan> miR-29c-3p</text>
  <text x="447" y="679"><tspan font-weight="bold" fill="#7030a0">Purple</tspan> miR-143-3p</text>
  <text x="447" y="698"><tspan font-weight="bold" fill="#1e7b34">Green</tspan> miR-191-5p</text>
</g>
</svg>
</body></html>
